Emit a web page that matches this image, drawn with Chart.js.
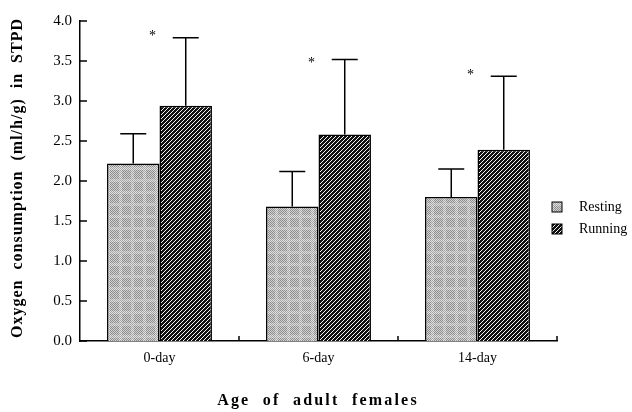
<!DOCTYPE html>
<html>
<head>
<meta charset="utf-8">
<script src="https://cdn.jsdelivr.net/npm/chart.js@4.4.1/dist/chart.umd.min.js"></script>
<style>
  body { margin: 0; background: #fff; }
  canvas { display: block; }
</style>
</head>
<body>
<canvas id="oxygen-chart" width="632" height="412"></canvas>
<script>
const ageGroups = ['0-day', '6-day', '14-day'];
const restingMean = [2.22, 1.68, 1.80];
const restingErrTop = [2.59, 2.12, 2.15];
const runningMean = [2.94, 2.58, 2.39];
const runningErrTop = [3.79, 3.52, 3.31];
const starLevel = [3.84, 3.51, 3.36];
const yTicks = [0, 0.5, 1.0, 1.5, 2.0, 2.5, 3.0, 3.5, 4.0];

const serif = "'Liberation Serif', 'DejaVu Serif', serif";

function makeRestingPattern() {
    const c = document.createElement('canvas');
    c.width = 12; c.height = 12;
    const g = c.getContext('2d');
    for (let x = 0; x < 12; x++) {
        for (let y = 0; y < 12; y++) {
            const inside = x > 1 && x < 11 && y > 1 && y < 11;
            const even = (x + y) % 2 === 0;
            if (inside) g.fillStyle = even ? '#8c8c8c' : '#d2d2d2';
            else g.fillStyle = even ? '#a6a6a6' : '#e0e0e0';
            g.fillRect(x, y, 1, 1);
        }
    }
    return g.createPattern(c, 'repeat');
}

function makeRunningPattern() {
    const c = document.createElement('canvas');
    c.width = 4; c.height = 4;
    const g = c.getContext('2d');
    g.fillStyle = '#111';
    g.fillRect(0, 0, 4, 4);
    g.strokeStyle = '#f4f4f4';
    g.lineWidth = 1;
    g.beginPath();
    g.moveTo(-1, 5); g.lineTo(5, -1);
    g.stroke();
    return g.createPattern(c, 'repeat');
}

const restingFill = makeRestingPattern();
const runningFill = makeRunningPattern();

const extrasPlugin = {
    id: 'extras',
    afterDatasetsDraw(chart) {
        const ctx = chart.ctx;
        const y = chart.scales.y;
        const x = chart.scales.x;
        const area = chart.chartArea;
        ctx.save();
        ctx.strokeStyle = '#000';
        ctx.lineWidth = 1.5;

        // error bars (upper only)
        const tops = [restingErrTop, runningErrTop];
        tops.forEach((arr, d) => {
            chart.getDatasetMeta(d).data.forEach((bar, i) => {
                const yt = y.getPixelForValue(arr[i]);
                ctx.beginPath();
                ctx.moveTo(bar.x, bar.y);
                ctx.lineTo(bar.x, yt);
                ctx.moveTo(bar.x - 13, yt);
                ctx.lineTo(bar.x + 13, yt);
                ctx.stroke();
            });
        });

        // y ticks pointing inward
        yTicks.forEach(v => {
            const py = y.getPixelForValue(v);
            ctx.beginPath();
            ctx.moveTo(area.left, py);
            ctx.lineTo(area.left + 7, py);
            ctx.stroke();
        });

        // x ticks at group boundaries
        [0.5, 1.5, 2.5].forEach(v => {
            const px = x.getPixelForValue(v);
            ctx.beginPath();
            ctx.moveTo(px, area.bottom);
            ctx.lineTo(px, area.bottom - 5);
            ctx.stroke();
        });

        // asterisks
        ctx.fillStyle = '#000';
        ctx.font = '14px ' + serif;
        ctx.textAlign = 'center';
        ctx.textBaseline = 'middle';
        starLevel.forEach((v, i) => {
            ctx.fillText('*', x.getPixelForValue(i) - 7, y.getPixelForValue(v) + 3);
        });

        // legend
        const items = [['Resting', restingFill], ['Running', runningFill]];
        ctx.font = '14px ' + serif;
        ctx.textAlign = 'left';
        items.forEach((it, k) => {
            const ly = 202 + k * 22;
            ctx.fillStyle = it[1];
            ctx.fillRect(552, ly, 10, 10);
            ctx.lineWidth = 1;
            ctx.strokeRect(552, ly, 10, 10);
            ctx.fillStyle = '#000';
            ctx.fillText(it[0], 579, ly + 5);
        });

        // axis titles
        ctx.font = 'bold 16px ' + serif;
        ctx.letterSpacing = '2.2px';
        ctx.textAlign = 'center';
        ctx.fillText('Age  of  adult  females', 318, 401);

        ctx.translate(18, 178);
        ctx.rotate(-Math.PI / 2);
        ctx.font = 'bold 16px ' + serif;
        ctx.letterSpacing = '1px';
        ctx.fillText('Oxygen  consumption  (ml/h/g)  in  STPD', 0, 0);
        ctx.restore();
    }
};

new Chart(document.getElementById('oxygen-chart'), {
    type: 'bar',
    data: {
        labels: ageGroups,
        datasets: [{
            label: 'Resting',
            data: restingMean,
            backgroundColor: restingFill,
            borderColor: '#000',
            borderWidth: 1.5
        }, {
            label: 'Running',
            data: runningMean,
            backgroundColor: runningFill,
            borderColor: '#000',
            borderWidth: 1.5
        }]
    },
    options: {
        responsive: false,
        animation: false,
        events: [],
        layout: { padding: { top: 21, right: 75, left: 0, bottom: 0 } },
        datasets: { bar: { categoryPercentage: 0.66, barPercentage: 1 } },
        plugins: {
            legend: { display: false },
            tooltip: { enabled: false }
        },
        scales: {
            x: {
                grid: { display: false, drawTicks: false },
                border: { display: true, color: '#000', width: 1.5 },
                ticks: { color: '#000', padding: 9, font: { family: serif, size: 14 } },
                afterFit(scale) { scale.height = 71; }
            },
            y: {
                min: 0,
                max: 4,
                grid: { display: false, drawTicks: false },
                border: { display: true, color: '#000', width: 1.5 },
                ticks: {
                    stepSize: 0.5,
                    color: '#000',
                    padding: 8,
                    font: { family: serif, size: 15 },
                    callback: v => v.toFixed(1)
                },
                afterFit(scale) { scale.width = 80; }
            }
        }
    },
    plugins: [extrasPlugin]
});
</script>
</body>
</html>
